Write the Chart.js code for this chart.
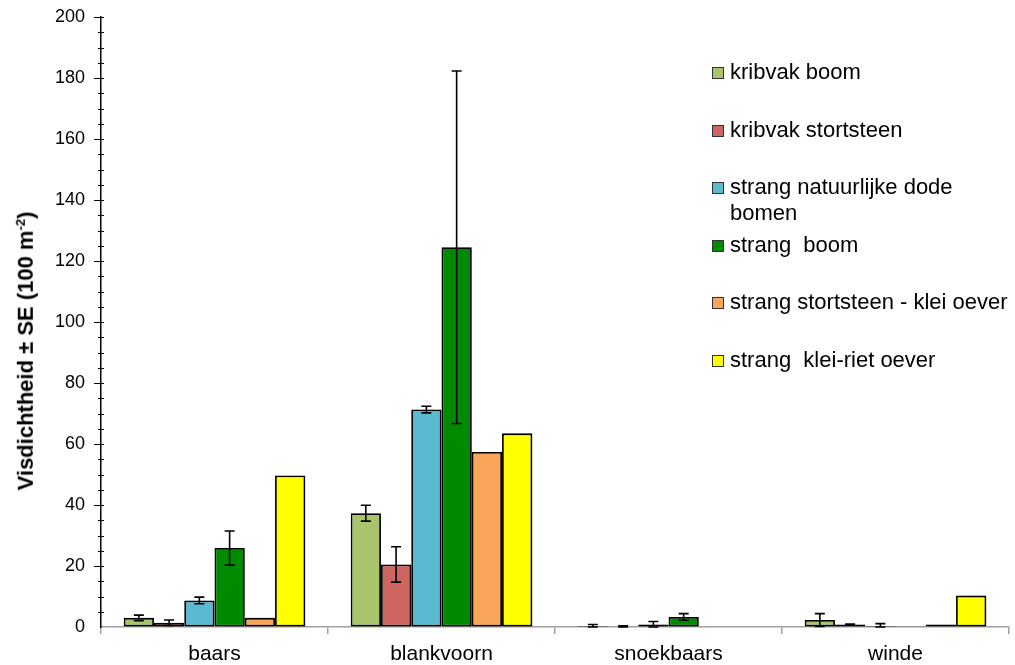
<!DOCTYPE html>
<html>
<head>
<meta charset="utf-8">
<script src="https://cdn.jsdelivr.net/npm/chart.js@4"></script>
<style>
    body { margin: 0; background: #fff; font-family: "Liberation Sans", Arial, sans-serif; }
    #wrap { position: relative; width: 1015px; height: 665px; }
    #yTitle {
        position: absolute; left: 26px; top: 351px;
        transform: translate(-50%, -50%) rotate(-90deg);
        white-space: nowrap; font-weight: bold; font-size: 22px; color: #000;
    }
    #yTitle sup { font-size: 13px; }
    .legItem { position: absolute; left: 712px; width: 300px; display: flex; align-items: flex-start; font-size: 22px; line-height: 26px; color: #000; }
    .legBox { width: 10px; height: 10px; border: 1px solid #333; margin-top: 8px; margin-right: 6px; flex: none; }
</style>
</head>
<body>
<div id="wrap">
    <canvas id="grafico" width="1015" height="665"></canvas>
    <div id="yTitle">Visdichtheid ± SE (100 m<sup>-2</sup>)</div>
    <div id="legenda"></div>
</div>
<script>
// Soorten (categorieen op de x-as)
const soorten = ['baars', 'blankvoorn', 'snoekbaars', 'winde'];

// Habitats (series)
const habitats = [
    'kribvak boom',
    'kribvak stortsteen',
    'strang natuurlijke dode bomen',
    'strang  boom',
    'strang stortsteen - klei oever',
    'strang  klei-riet oever'
];
const kleuren = ['#A9C46C', '#CD6661', '#5BB9D1', '#008A00', '#F9A65A', '#FFFF00'];

// Gemiddelde visdichtheid per habitat (volgorde = soorten)
const kribvakBoom = [3.0, 37.3, 0.3, 2.3];
const kribvakStortsteen = [1.4, 20.5, 0.2, 0.8];
const strangDodeBomen = [8.7, 71.3, 0.8, 0.3];
const strangBoom = [25.9, 124.5, 3.3, 0.1];
const strangStortsteen = [3.0, 57.4, 0, 0.8];
const strangKleiRiet = [49.7, 63.5, 0, 10.3];

// Standaardfout (SE)
const seKribvakBoom = [0.9, 2.6, 0.5, 2.1];
const seKribvakStortsteen = [0.9, 5.8, 0.2, 0.2];
const seStrangDodeBomen = [1.1, 1.1, 1.0, 0.8];
const seStrangBoom = [5.6, 57.8, 1.1, 0];
const seStrangStortsteen = [0, 0, 0, 0];
const seStrangKleiRiet = [0, 0, 0, 0];

const waarden = [kribvakBoom, kribvakStortsteen, strangDodeBomen, strangBoom, strangStortsteen, strangKleiRiet];
const fouten = [seKribvakBoom, seKribvakStortsteen, seStrangDodeBomen, seStrangBoom, seStrangStortsteen, seStrangKleiRiet];

const yMin = 0, yMax = 200, yStap = 20, yMinorStap = 5;

const fonte = '"Liberation Sans", Arial, sans-serif';

// schaduw onder de staven + foutbalken
const foutBalken = {
    id: 'foutBalken',
    beforeDatasetsDraw(chart) {
        const ctx = chart.ctx;
        ctx.save();
        ctx.shadowColor = 'rgba(0,0,0,0.3)';
        ctx.shadowBlur = 3;
        ctx.shadowOffsetX = 2;
        ctx.shadowOffsetY = 1;
    },
    afterDatasetsDraw(chart) {
        const ctx = chart.ctx;
        ctx.restore();
        const y = chart.scales.y;
        ctx.save();
        ctx.strokeStyle = '#000';
        ctx.lineWidth = 1.6;
        chart.data.datasets.forEach((ds, i) => {
            const meta = chart.getDatasetMeta(i);
            meta.data.forEach((bar, j) => {
                const se = ds.errors[j];
                if (!se) return;
                const v = ds.data[j];
                const top = y.getPixelForValue(v + se);
                const bot = y.getPixelForValue(Math.max(0, v - se));
                ctx.beginPath();
                ctx.moveTo(bar.x, top);
                ctx.lineTo(bar.x, bot);
                ctx.moveTo(bar.x - 5, top);
                ctx.lineTo(bar.x + 5, top);
                ctx.moveTo(bar.x - 5, bot);
                ctx.lineTo(bar.x + 5, bot);
                ctx.stroke();
            });
        });
        ctx.restore();
    },
    afterDraw(chart) {
        // grote en kleine streepjes op de y-as
        const ctx = chart.ctx;
        const y = chart.scales.y;
        const x0 = chart.chartArea.left;
        ctx.save();
        ctx.strokeStyle = '#000';
        ctx.lineWidth = 1;
        for (let v = yMin; v <= yMax; v += yMinorStap) {
            if (v === 0) continue;
            const py = Math.round(y.getPixelForValue(v)) + 0.5;
            const groot = v % yStap === 0;
            ctx.beginPath();
            ctx.moveTo(x0 - (groot ? 7 : 3), py);
            ctx.lineTo(x0 + 3, py);
            ctx.stroke();
        }
        ctx.restore();
    }
};

const datasets = habitats.map((naam, i) => ({
    label: naam,
    data: waarden[i],
    errors: fouten[i],
    backgroundColor: kleuren[i],
    borderColor: '#000',
    borderWidth: 1.8,
    borderSkipped: false,
    categoryPercentage: 0.8,
    barPercentage: 1.0
}));

const ctx = document.getElementById('grafico').getContext('2d');
const grafico = new Chart(ctx, {
    type: 'bar',
    data: { labels: soorten, datasets: datasets },
    options: {
        responsive: false,
        animation: false,
        layout: { padding: { top: 17, right: 6, left: 0, bottom: 0 } },
        plugins: {
            legend: { display: false },
            tooltip: { enabled: false }
        },
        scales: {
            x: {
                grid: { drawOnChartArea: false, color: '#A0A0A0', lineWidth: 1.5, tickLength: 7 },
                border: { color: '#A0A0A0', width: 1.5 },
                ticks: { color: '#000', font: { family: fonte, size: 21 }, padding: 8, maxRotation: 0 },
                afterFit(scale) { scale.height = 38; }
            },
            y: {
                min: yMin,
                max: yMax,
                // streepjes zelf getekend, ruimte via onzichtbare tickLength
                grid: { drawOnChartArea: false, drawTicks: true, tickLength: 14, tickColor: 'rgba(0,0,0,0)' },
                border: { color: '#000', width: 1.5 },
                ticks: { stepSize: yStap, color: '#000', font: { family: fonte, size: 18 }, padding: 2 },
                afterFit(scale) { scale.width = 101; }
            }
        }
    },
    plugins: [foutBalken]
});

// legenda naast de grafiek
const legenda = document.getElementById('legenda');
habitats.forEach((naam, i) => {
    const item = document.createElement('div');
    item.className = 'legItem';
    item.style.top = (59 + i * 57.5) + 'px';
    item.innerHTML = `<span class="legBox" style="background:${kleuren[i]}"></span><span style="white-space:pre-wrap">${naam}</span>`;
    legenda.appendChild(item);
});
</script>
</body>
</html>
